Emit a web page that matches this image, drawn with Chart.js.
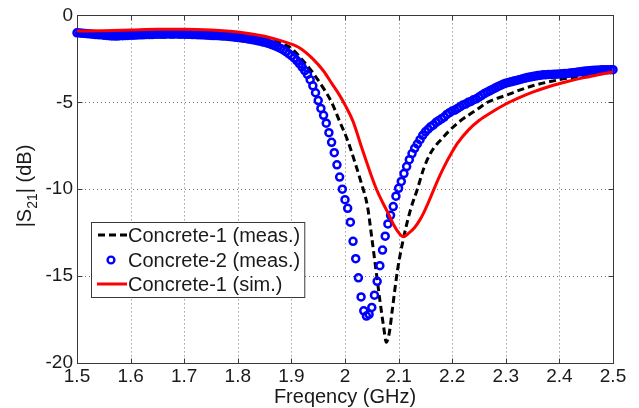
<!DOCTYPE html>
<html>
<head>
<meta charset="utf-8">
<script src="https://cdn.jsdelivr.net/npm/chart.js@4.4.1/dist/chart.umd.min.js"></script>
<style>
	html, body { margin: 0; padding: 0; background: #fff; }
	canvas { display: block; }
</style>
</head>
<body>
<canvas id="s21Chart" width="639" height="408"></canvas>
<script>
// tick labels
const xTicks = [1.5, 1.6, 1.7, 1.8, 1.9, 2, 2.1, 2.2, 2.3, 2.4, 2.5];
const yTicks = [-20, -15, -10, -5, 0];

const seriesNames = ["Concrete-1 (meas.)", "Concrete-2 (meas.)", "Concrete-1 (sim.)"];

// Concrete-1 measured (black dashed)
const c1MeasFreq = [1.50, 1.55, 1.60, 1.65, 1.70, 1.75, 1.80, 1.85, 1.88, 1.90, 1.92, 1.94, 1.96, 1.975, 1.99,
	2.005, 2.02, 2.03, 2.042, 2.05, 2.058, 2.066, 2.072, 2.077, 2.083, 2.088, 2.098, 2.11, 2.122, 2.135,
	2.147, 2.16, 2.179, 2.21, 2.247, 2.266, 2.30, 2.35, 2.40, 2.45, 2.50];
const c1MeasS21 = [-1.0, -1.0, -0.95, -0.9, -0.9, -0.95, -1.05, -1.3, -1.6, -1.9, -2.55, -3.3, -4.2, -5.0, -6.1,
	-7.2, -8.6, -9.6, -11.0, -12.8, -14.7, -16.6, -17.9, -18.8, -18.2, -17.0, -14.65, -12.7, -11.2, -10.0,
	-8.8, -7.9, -7.15, -6.2, -5.4, -5.0, -4.6, -4.05, -3.7, -3.45, -3.2];

// Concrete-2 measured (blue circles)
const c2MeasFreq = [
	1.500, 1.505, 1.510, 1.515, 1.520, 1.525, 1.530, 1.535, 1.540, 1.545,
	1.550, 1.555, 1.560, 1.565, 1.570, 1.575, 1.580, 1.585, 1.590, 1.595,
	1.600, 1.605, 1.610, 1.615, 1.620, 1.625, 1.630, 1.635, 1.640, 1.645,
	1.650, 1.655, 1.660, 1.665, 1.670, 1.675, 1.680, 1.685, 1.690, 1.695,
	1.700, 1.705, 1.710, 1.715, 1.720, 1.725, 1.730, 1.735, 1.740, 1.745,
	1.750, 1.755, 1.760, 1.765, 1.770, 1.775, 1.780, 1.785, 1.790, 1.795,
	1.800, 1.805, 1.810, 1.815, 1.820, 1.825, 1.830, 1.835, 1.840, 1.845,
	1.850, 1.855, 1.860, 1.865, 1.870, 1.875, 1.880, 1.885, 1.890, 1.895,
	1.900, 1.905, 1.910, 1.915, 1.920, 1.925, 1.930, 1.935, 1.940, 1.945,
	1.950, 1.955, 1.960, 1.965, 1.970, 1.975, 1.980, 1.985, 1.990, 1.995,
	2.000, 2.005, 2.010, 2.015, 2.020, 2.025, 2.030, 2.035, 2.040, 2.045,
	2.050, 2.055, 2.060, 2.065, 2.070, 2.075, 2.080, 2.085, 2.090, 2.095,
	2.100, 2.105, 2.110, 2.115, 2.120, 2.125, 2.130, 2.135, 2.140, 2.145,
	2.150, 2.155, 2.160, 2.165, 2.170, 2.175, 2.180, 2.185, 2.190, 2.195,
	2.200, 2.205, 2.210, 2.215, 2.220, 2.225, 2.230, 2.235, 2.240, 2.245,
	2.250, 2.255, 2.260, 2.265, 2.270, 2.275, 2.280, 2.285, 2.290, 2.295,
	2.300, 2.305, 2.310, 2.315, 2.320, 2.325, 2.330, 2.335, 2.340, 2.345,
	2.350, 2.355, 2.360, 2.365, 2.370, 2.375, 2.380, 2.385, 2.390, 2.395,
	2.400, 2.405, 2.410, 2.415, 2.420, 2.425, 2.430, 2.435, 2.440, 2.445,
	2.450, 2.455, 2.460, 2.465, 2.470, 2.475, 2.480, 2.485, 2.490, 2.495,
	2.500];
const c2MeasS21 = [
	-1.00, -1.01, -1.03, -1.04, -1.05, -1.07, -1.08, -1.10, -1.11, -1.12,
	-1.14, -1.15, -1.17, -1.18, -1.18, -1.19, -1.17, -1.17, -1.16, -1.15,
	-1.14, -1.14, -1.13, -1.12, -1.12, -1.11, -1.10, -1.10, -1.10, -1.09,
	-1.08, -1.08, -1.09, -1.08, -1.07, -1.08, -1.08, -1.07, -1.08, -1.08,
	-1.08, -1.09, -1.09, -1.10, -1.10, -1.11, -1.12, -1.12, -1.13, -1.14,
	-1.15, -1.16, -1.16, -1.17, -1.18, -1.19, -1.20, -1.22, -1.23, -1.25,
	-1.27, -1.29, -1.31, -1.33, -1.36, -1.38, -1.41, -1.44, -1.48, -1.51,
	-1.55, -1.59, -1.64, -1.70, -1.76, -1.83, -1.90, -1.99, -2.08, -2.20,
	-2.32, -2.45, -2.60, -2.78, -2.97, -3.18, -3.40, -3.70, -4.05, -4.45,
	-4.90, -5.35, -5.75, -6.20, -6.75, -7.30, -7.90, -8.60, -9.30, -10.00,
	-10.60, -11.10, -11.90, -13.00, -14.00, -15.10, -16.20, -17.00, -17.30, -17.20,
	-16.80, -16.10, -15.30, -14.40, -13.50, -12.70, -12.00, -11.50, -11.00, -10.40,
	-9.95, -9.55, -9.10, -8.70, -8.30, -7.95, -7.65, -7.40, -7.15, -6.90,
	-6.70, -6.55, -6.40, -6.30, -6.15, -6.05, -5.95, -5.85, -5.70, -5.60,
	-5.50, -5.45, -5.35, -5.25, -5.15, -5.10, -5.00, -4.95, -4.85, -4.80,
	-4.70, -4.60, -4.50, -4.42, -4.34, -4.26, -4.18, -4.10, -4.03, -3.96,
	-3.90, -3.86, -3.82, -3.78, -3.74, -3.70, -3.66, -3.62, -3.58, -3.55,
	-3.52, -3.49, -3.46, -3.44, -3.42, -3.41, -3.40, -3.40, -3.39, -3.38,
	-3.37, -3.36, -3.35, -3.34, -3.32, -3.30, -3.28, -3.26, -3.24, -3.22,
	-3.20, -3.18, -3.17, -3.16, -3.15, -3.14, -3.13, -3.12, -3.12, -3.12,
	-3.12];

// Concrete-1 simulated (red line)
const c1SimFreq = [1.50, 1.55, 1.60, 1.65, 1.70, 1.75, 1.80, 1.85, 1.88, 1.90, 1.917, 1.94, 1.96, 1.975, 1.99,
	2.00, 2.015, 2.03, 2.05, 2.06, 2.07, 2.08, 2.09, 2.10, 2.108, 2.12, 2.13, 2.14, 2.147, 2.155,
	2.166, 2.175, 2.185, 2.20, 2.21, 2.23, 2.25, 2.272, 2.30, 2.322, 2.35, 2.384, 2.415, 2.446, 2.475,
	2.50];
const c1SimS21 = [-0.9, -0.88, -0.84, -0.8, -0.8, -0.84, -0.95, -1.2, -1.45, -1.65, -1.9, -2.5, -3.2, -3.9, -4.6,
	-5.15, -6.1, -7.5, -9.3, -10.1, -10.75, -11.35, -12.0, -12.5, -12.73, -12.5, -12.2, -11.75, -11.35, -10.8,
	-10.0, -9.35, -8.7, -7.85, -7.35, -6.6, -6.05, -5.6, -5.1, -4.78, -4.42, -4.06, -3.8, -3.58, -3.4,
	-3.25];

const FONT = '"Liberation Sans", Arial, Helvetica, sans-serif';
const TEXT = "#1a1a1a";

function pts(fs, vs) {
	return fs.map((f, i) => ({ x: f, y: vs[i] }));
}

const matlabFrame = {
	id: "matlabFrame",
	beforeDatasetsDraw(chart) {
		const { ctx, chartArea: a, scales } = chart;
		const x = scales.x, y = scales.y;
		ctx.save();
		// dotted grid
		ctx.strokeStyle = "rgba(0,0,0,0.55)";
		ctx.lineWidth = 1;
		ctx.setLineDash([1, 3]);
		ctx.beginPath();
		xTicks.forEach(v => {
			const px = Math.round(x.getPixelForValue(v)) + 0.5;
			ctx.moveTo(px, a.top);
			ctx.lineTo(px, a.bottom);
		});
		yTicks.forEach(v => {
			const py = Math.round(y.getPixelForValue(v)) + 0.5;
			ctx.moveTo(a.left, py);
			ctx.lineTo(a.right, py);
		});
		ctx.stroke();
		// box + inward ticks
		ctx.setLineDash([]);
		ctx.strokeStyle = "#3a3a3a";
		const l = Math.round(a.left) + 0.5, r = Math.round(a.right) + 0.5;
		const t = Math.round(a.top) + 0.5, b = Math.round(a.bottom) + 0.5;
		ctx.strokeRect(l, t, r - l, b - t);
		ctx.beginPath();
		xTicks.forEach(v => {
			const px = Math.round(x.getPixelForValue(v)) + 0.5;
			ctx.moveTo(px, b); ctx.lineTo(px, b - 5);
			ctx.moveTo(px, t); ctx.lineTo(px, t + 5);
		});
		yTicks.forEach(v => {
			const py = Math.round(y.getPixelForValue(v)) + 0.5;
			ctx.moveTo(l, py); ctx.lineTo(l + 5, py);
			ctx.moveTo(r, py); ctx.lineTo(r - 5, py);
		});
		ctx.stroke();
		ctx.restore();
	},
	afterDraw(chart) {
		const { ctx, chartArea: a } = chart;
		ctx.save();
		ctx.fillStyle = TEXT;
		// x title
		ctx.font = "20px " + FONT;
		ctx.textAlign = "center";
		ctx.textBaseline = "alphabetic";
		ctx.fillText("Freqency (GHz)", (a.left + a.right) / 2, 403);
		// y title with subscript
		ctx.save();
		ctx.translate(31, 186);
		ctx.rotate(-Math.PI / 2);
		ctx.textAlign = "left";
		ctx.font = "20px " + FONT;
		const w1 = ctx.measureText("|S").width;
		const w3 = ctx.measureText("| (dB)").width;
		ctx.font = "14px " + FONT;
		const w2 = ctx.measureText("21").width;
		let sx = -(w1 + w2 + w3) / 2;
		ctx.font = "20px " + FONT;
		ctx.fillText("|S", sx, 0);
		ctx.font = "14px " + FONT;
		ctx.fillText("21", sx + w1, 6);
		ctx.font = "20px " + FONT;
		ctx.fillText("| (dB)", sx + w1 + w2, 0);
		ctx.restore();

		// legend
		ctx.font = "20px " + FONT;
		const textW = Math.max(...seriesNames.map(s => ctx.measureText(s).width));
		const bx = 91.5, by = 222.5, bh = 75;
		const bw = 128 - 91 + textW + 4;
		ctx.fillStyle = "#fff";
		ctx.fillRect(bx, by, bw, bh);
		ctx.strokeStyle = "#3a3a3a";
		ctx.lineWidth = 1;
		ctx.strokeRect(bx, by, bw, bh);
		const rows = [235, 260, 284];
		// black dashed sample
		ctx.strokeStyle = "#000";
		ctx.lineWidth = 3;
		ctx.setLineDash([7, 4]);
		ctx.beginPath(); ctx.moveTo(98, rows[0]); ctx.lineTo(127, rows[0]); ctx.stroke();
		ctx.setLineDash([]);
		// blue marker sample
		ctx.strokeStyle = "#0000ff";
		ctx.lineWidth = 2.4;
		ctx.beginPath(); ctx.arc(111, rows[1], 3.4, 0, Math.PI * 2); ctx.stroke();
		// red line sample
		ctx.strokeStyle = "#ff0000";
		ctx.lineWidth = 3;
		ctx.beginPath(); ctx.moveTo(97, rows[2]); ctx.lineTo(127, rows[2]); ctx.stroke();
		ctx.fillStyle = TEXT;
		ctx.textAlign = "left";
		ctx.textBaseline = "middle";
		seriesNames.forEach((s, i) => ctx.fillText(s, 128, rows[i] + 1));
		ctx.restore();
	}
};

new Chart(document.getElementById("s21Chart"), {
	type: "scatter",
	data: {
		datasets: [
			{
				label: seriesNames[0],
				data: pts(c1MeasFreq, c1MeasS21),
				showLine: true,
				borderColor: "#000000",
				borderWidth: 3,
				borderDash: [7, 4],
				pointRadius: 0,
				cubicInterpolationMode: "monotone",
				order: 2,
			},
			{
				label: seriesNames[1],
				data: pts(c2MeasFreq, c2MeasS21),
				showLine: false,
				pointRadius: 3.5,
				pointBorderWidth: 2.5,
				pointBorderColor: "#0000ff",
				pointBackgroundColor: "rgba(0,0,0,0)",
				clip: false,
				order: 1,
			},
			{
				label: seriesNames[2],
				data: pts(c1SimFreq, c1SimS21),
				showLine: true,
				borderColor: "#ff0000",
				borderWidth: 3,
				pointRadius: 0,
				cubicInterpolationMode: "monotone",
				order: 0,
			},
		],
	},
	options: {
		responsive: false,
		animation: false,
		devicePixelRatio: 1,
		layout: { padding: { left: 0, right: 26, top: 15, bottom: 0 } },
		plugins: {
			legend: { display: false },
			tooltip: { enabled: false },
		},
		scales: {
			x: {
				type: "linear",
				min: 1.5,
				max: 2.5,
				afterBuildTicks: s => { s.ticks = xTicks.map(v => ({ value: v })); },
				afterFit: s => { s.height = 45; },
				grid: { display: false, drawTicks: false },
				border: { display: false },
				ticks: {
					padding: 2,
					color: TEXT,
					font: { family: FONT, size: 19 },
					maxRotation: 0,
					autoSkip: false,
					callback: v => String(v),
				},
			},
			y: {
				type: "linear",
				min: -20,
				max: 0,
				afterBuildTicks: s => { s.ticks = yTicks.map(v => ({ value: v })); },
				afterFit: s => { s.width = 77; },
				grid: { display: false, drawTicks: false },
				border: { display: false },
				ticks: {
					padding: 4,
					color: TEXT,
					font: { family: FONT, size: 19 },
					callback: v => String(v),
				},
			},
		},
	},
	plugins: [matlabFrame],
});
</script>
</body>
</html>
